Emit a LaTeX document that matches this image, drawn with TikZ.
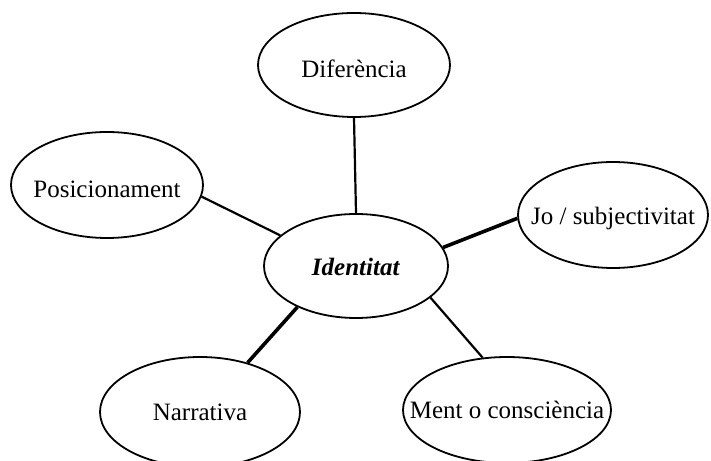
\documentclass[tikz,border=0pt]{standalone}
\usepackage{fontspec}
\setmainfont{Liberation Serif}
\usetikzlibrary{shapes.geometric}

\tikzset{
  bubble/.style={ellipse, draw=black, line width=1.8pt, inner sep=0pt, fill=white},
  caption/.style={font=\fontsize{25}{29}\selectfont, inner sep=0pt},
  thinlink/.style={draw=black, line width=2.2pt},
  thicklink/.style={draw=black, line width=3.6pt},
}

\begin{document}
\begin{tikzpicture}[x=1pt, y=1pt]
  \useasboundingbox (0,0) rectangle (711,460);

  % ellipses (sizes set directly, captions placed on top)
  \node[bubble, minimum width=184pt, minimum height=104pt] (iden) at (356,194) {};
  \node[bubble, minimum width=192pt, minimum height=104pt] (dif)  at (354,395) {};
  \node[bubble, minimum width=192pt, minimum height=106pt] (pos)  at (107,275) {};
  \node[bubble, minimum width=190pt, minimum height=106pt] (jo)   at (613,245) {};
  \node[bubble, minimum width=200pt, minimum height=110pt] (narr) at (200,48)  {};
  \node[bubble, minimum width=208pt, minimum height=106pt] (ment) at (507,50)  {};

  % captions
  \node[caption] at ([yshift=-1pt]iden.center) {\textbf{\textit{Identitat}}};
  \node[caption] at ([yshift=-4pt]dif.center)  {Diferència};
  \node[caption] at ([yshift=-4pt]pos.center)  {Posicionament};
  \node[caption] at ([yshift=-3pt]jo.center)   {Jo / subjectivitat};
  \node[caption] at (narr.center) {Narrativa};
  \node[caption] at (ment.center) {Ment o consciència};

  % connectors
  \draw[thinlink]  (dif.south) -- (iden.north);
  \draw[thinlink]  (pos.-7)    -- (iden.158);
  \draw[thicklink] (iden.12)   -- (jo.182);
  \draw[thicklink] (iden.215)  -- (narr.46);
  \draw[thinlink]  (iden.-23)  -- (ment.115);
\end{tikzpicture}
\end{document}
